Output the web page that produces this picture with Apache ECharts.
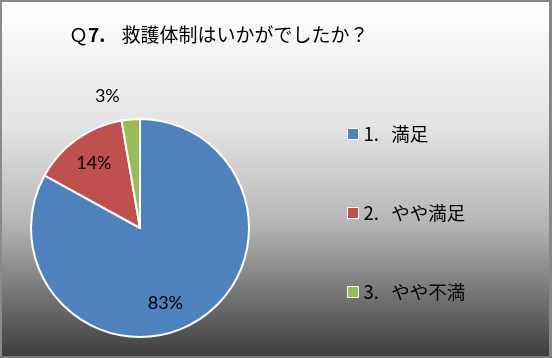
<!DOCTYPE html>
<html><head><meta charset="utf-8">
<script src="https://cdn.jsdelivr.net/npm/echarts@6/dist/echarts.min.js"></script>
<style>html,body{margin:0;padding:0;background:#fff}#c{width:552px;height:358px}</style>
</head><body><div id="c"></div>
<script>
const titleParts = ['Ｑ', '7.', '救護体制はいかがでしたか？'];
const categories = ['1.  満足', '2.  やや満足', '3.  やや不満'];
const values = [83.0, 14.3, 2.7];
const colors = ['#4F81BD', '#C0504D', '#9BBB59'];

const chart = echarts.init(document.getElementById('c'), null, {renderer: 'canvas'});
const font = '"Noto Sans CJK JP", Lato, sans-serif';
const pieCenter = [140, 228];
const pieR = 109;
// label placement (angle shift in degrees, fraction of radius), Excel-style best fit
const labelPlace = [[12, 0.73], [0, 0.73], [-9, 1.25]];
const total = values.reduce((a, b) => a + b, 0);
const midAngles = values.map((v, i) => {
  const before = values.slice(0, i).reduce((a, b) => a + b, 0);
  return (before + v / 2) / total * 360;
});

chart.setOption({
  animation: false,
  backgroundColor: new echarts.graphic.LinearGradient(0, 0, 0, 1, [
    {offset: 0, color: '#ffffff'},
    {offset: 0.35, color: '#e4e4e4'},
    {offset: 0.62, color: '#b6b6b6'},
    {offset: 1, color: '#3c3c3c'}
  ]),
  title: {
    text: '{q|' + titleParts[0] + '}{b|' + titleParts[1] + '}{g|}{t|' + titleParts[2] + '}',
    left: 64, top: 20,
    textStyle: {
      fontFamily: font, fontSize: 19, fontWeight: 'normal', color: '#000',
      rich: {
        q: {fontFamily: font, fontSize: 19, color: '#000'},
        b: {fontFamily: font, fontSize: 19, fontWeight: 'bold', color: '#000'},
        g: {width: 16},
        t: {fontFamily: font, fontSize: 19, color: '#000'}
      }
    }
  },
  legend: {
    orient: 'vertical', left: 347, top: 123, padding: 0,
    itemWidth: 11, itemHeight: 11, itemGap: 57,
    icon: 'rect',
    itemStyle: {borderColor: '#fff', borderWidth: 1},
    textStyle: {fontFamily: font, fontSize: 18.5, color: '#000', lineHeight: 22},
    formatter: n => n.replace('.  ', '.   '),
    data: categories
  },
  graphic: [
    {type: 'rect', shape: {x: 0, y: 0, width: 552, height: 2}, style: {fill: '#878787'}},
    {type: 'rect', shape: {x: 0, y: 0, width: 2, height: 358}, style: {fill: '#8a8a8a'}},
    {type: 'rect', shape: {x: 549, y: 0, width: 3, height: 358}, style: {fill: '#878787'}},
    {type: 'rect', shape: {x: 0, y: 356, width: 552, height: 2}, style: {fill: '#7a7a7a'}}
  ],
  series: [{
    type: 'pie',
    center: pieCenter, radius: pieR,
    startAngle: 90, clockwise: true,
    avoidLabelOverlap: false,
    itemStyle: {borderColor: '#fff', borderWidth: 2},
    label: {
      position: 'inside',
      fontFamily: 'Lato, "Noto Sans", sans-serif', fontSize: 18, color: '#000',
      formatter: p => Math.round(p.value) + '%'
    },
    labelLine: {show: false},
    labelLayout: p => {
      const [shift, frac] = labelPlace[p.dataIndex];
      const a = (midAngles[p.dataIndex] + shift) * Math.PI / 180;
      const d = frac * pieR;
      return {
        x: pieCenter[0] + d * Math.sin(a),
        y: pieCenter[1] - d * Math.cos(a),
        align: 'center', verticalAlign: 'middle'
      };
    },
    data: categories.map((c, i) => ({name: c, value: values[i], itemStyle: {color: colors[i]}}))
  }]
});
</script></body></html>
